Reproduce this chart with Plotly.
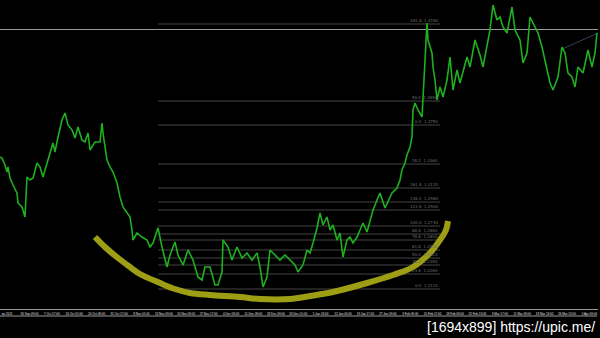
import plotly.graph_objects as go

# ---- price series (bar index, close) ----
bars = [0,2,5,7,8,10,13,17,18,22,
        25,27,30,33,37,40,43,47,50,53,
        55,58,62,65,68,72,75,78,82,85,
        88,90,95,100,102,103,107,110,113,117,
        120,123,127,130,132,133,137,142,147,150,
        153,158,162,165,167,170,175,178,183,188,
        193,198,202,205,210,215,218,222,223,228,
        232,237,242,247,252,257,260,263,267,270,
        275,280,285,290,295,298,303,307,310,313,
        317,320,323,327,330,333,337,340,343,347,
        350,353,357,360,363,367,370,373,377,380,
        385,388,392,397,400,402,405,407,410,412,
        413,415,418,422,423,425,427,428,432,433,
        435,437,440,443,447,450,453,457,460,467,
        470,475,480,483,487,490,493,497,500,503,
        507,512,515,520,523,527,530,533,538,542,
        547,550,553,558,562,565,568,572,575,578,
        583,588,592,595,597]
prices = [1.343,1.342,1.335,1.328,1.333,1.322,1.315,1.307,1.297,1.293,
          1.283,1.323,1.320,1.322,1.337,1.333,1.323,1.338,1.347,1.357,
          1.348,1.363,1.380,1.387,1.375,1.370,1.362,1.373,1.360,1.358,
          1.367,1.350,1.358,1.358,1.377,1.367,1.340,1.333,1.328,1.317,
          1.303,1.293,1.287,1.283,1.270,1.260,1.267,1.263,1.260,1.253,
          1.257,1.272,1.253,1.240,1.233,1.245,1.258,1.245,1.235,1.250,
          1.240,1.223,1.220,1.233,1.233,1.215,1.215,1.228,1.260,1.253,
          1.240,1.253,1.242,1.247,1.240,1.247,1.233,1.213,1.223,1.250,
          1.245,1.240,1.245,1.240,1.235,1.228,1.235,1.250,1.247,1.257,
          1.272,1.287,1.275,1.283,1.270,1.275,1.260,1.267,1.243,1.260,
          1.263,1.257,1.263,1.270,1.277,1.268,1.280,1.290,1.300,1.307,
          1.292,1.298,1.307,1.312,1.320,1.330,1.337,1.345,1.353,1.363,
          1.390,1.397,1.390,1.383,1.400,1.433,1.477,1.460,1.447,1.433,
          1.420,1.400,1.413,1.403,1.420,1.443,1.410,1.430,1.417,1.443,
          1.433,1.460,1.445,1.433,1.453,1.470,1.495,1.480,1.483,1.473,
          1.467,1.493,1.470,1.460,1.437,1.447,1.483,1.477,1.467,1.453,
          1.430,1.417,1.410,1.423,1.453,1.447,1.427,1.423,1.413,1.433,
          1.427,1.450,1.433,1.447,1.467]

# ---- hand-drawn bowl curve ----
curve_bars = [95,105,118,130,140,160,175,190,210,240,260,290,310,333,367,393,413,430,440,446,448]
curve_prices = [1.263,1.253,1.242,1.233,1.226,1.217,1.211,1.207,1.205,1.203,1.201,1.201,
                1.204,1.208,1.217,1.225,1.233,1.247,1.260,1.270,1.279]

# ---- fibonacci levels ----
fib_levels = [1.476,1.399,1.375,1.336,1.312,1.298,1.290,1.274,1.266,1.260,1.250,1.242,1.235,1.226,1.211]
fib_names = ["161.8","50.0","0.0","38.2","161.8","138.2","123.6","100.0","88.6","78.6","61.8","50.0","38.2","23.6","0.0"]
fib_start, fib_end = 158, 440

current_price = 1.4705
trend_bars = [560, 598]
trend_prices = [1.450, 1.467]

# ---- time axis labels ----
time_labels = ["ep 2011","30 Sep 09:00","7 Oct 17:00","16 Oct 01:00","24 Oct 09:00","31 Oct 17:00",
               "8 Nov 01:00","13 Nov 09:00","20 Nov 09:00","27 Nov 17:00","4 Dec 09:00","11 Dec 09:00",
               "18 Dec 09:00","26 Dec 01:00","5 Jan 13:00","12 Jan 05:00","19 Jan 17:00","27 Jan 09:00",
               "3 Feb 09:00","10 Feb 17:00","18 Feb 09:00","25 Feb 13:00","3 Mar 17:00","11 Mar 09:00",
               "18 Mar 13:00","26 Mar 13:00","5 Apr 09:00"]
tick_pos = [7 + 22.4 * i for i in range(len(time_labels))]

fig = go.Figure()

# fib lines
for lv in fib_levels:
    fig.add_trace(go.Scatter(x=[fib_start, fib_end], y=[lv, lv], mode="lines",
                             line=dict(color="#444444", width=1), hoverinfo="skip", showlegend=False))
# current price line
fig.add_trace(go.Scatter(x=[0, 598], y=[current_price, current_price], mode="lines",
                         line=dict(color="#9a9a9a", width=1), hoverinfo="skip", showlegend=False))
# trend line
fig.add_trace(go.Scatter(x=trend_bars, y=trend_prices, mode="lines",
                         line=dict(color="#34405a", width=1), hoverinfo="skip", showlegend=False))
# price
fig.add_trace(go.Scatter(x=bars, y=prices, mode="lines",
                         line=dict(color="#1fb01f", width=1.6), showlegend=False))
# bowl
fig.add_trace(go.Scatter(x=curve_bars, y=curve_prices, mode="lines", line_shape="spline",
                         line=dict(color="#9e9e14", width=6), showlegend=False))

for lv, nm in zip(fib_levels, fib_names):
    fig.add_annotation(x=fib_end, y=lv, xref="x", yref="y", text=f"{nm}  {lv:.4f}",
                       showarrow=False, xanchor="right", yanchor="bottom", yshift=-1,
                       font=dict(size=4, color="#6e6e6e", family="DejaVu Sans"))

fig.add_annotation(x=597/600, y=(338-327)/338, xref="paper", yref="paper",
                   text="[1694x899] https://upic.me/", showarrow=False,
                   xanchor="right", yanchor="middle",
                   font=dict(size=14, color="#ffffff", family="Liberation Sans"))

fig.add_shape(type="line", xref="paper", yref="paper", x0=0, x1=597/600,
              y0=(338-316)/338, y1=(338-316)/338, line=dict(color="#9a9a9a", width=1))

fig.update_layout(
    width=600, height=338, margin=dict(l=0, r=0, t=0, b=0),
    paper_bgcolor="#000000", plot_bgcolor="#000000",
    xaxis=dict(domain=[0, 598/600], range=[0, 598], showgrid=False, zeroline=False,
               showline=True, linecolor="#9a9a9a", linewidth=1,
               tickmode="array", tickvals=tick_pos, ticktext=time_labels,
               ticks="", tickangle=0, ticklabelstandoff=1,
               tickfont=dict(size=3, color="#e0e0e0", family="Liberation Sans")),
    yaxis=dict(domain=[29/338, 1], range=[1.5 - 309/1000, 1.5], visible=False),
)

fig.write_html("out.html")
